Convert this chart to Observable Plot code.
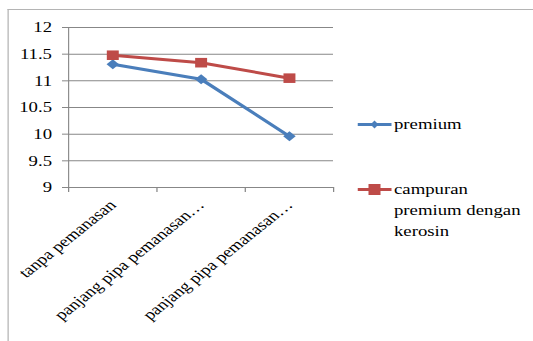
<!DOCTYPE html>
<html><head><meta charset="utf-8">
<script src="https://cdn.jsdelivr.net/npm/d3@7"></script>
<script src="https://cdn.jsdelivr.net/npm/@observablehq/plot@0.6"></script>
<style>
body{margin:0;background:#fff;}
#wrap{position:relative;width:533px;height:341px;overflow:hidden;}
#stage{position:absolute;left:0;top:0;width:426.4px;height:341px;transform:scaleX(1.25);transform-origin:0 0;font-family:'Liberation Serif';}
#frame{position:absolute;left:5.6px;top:9px;width:430px;height:340px;border-top:1.5px solid #b4b4b4;border-left:1.2px solid #b4b4b4;}
#chart{position:absolute;left:0;top:0;}
.leg{position:absolute;font-size:15px;line-height:21px;color:#000;font-family:'Liberation Serif';white-space:nowrap;}
.leg svg{position:absolute;left:0;top:0;}
</style></head>
<body><div id="wrap"><div id="stage"><div id="frame"></div><div id="chart"></div>
<div class="leg" style="left:285.6px;top:114px;"><svg width="28" height="22"><line x1="0" x2="27.2" y1="10.5" y2="10.5" stroke="#4a7ebb" stroke-width="3"/><path d="M13.6,6.5 L16.8,10.5 L13.6,14.5 L10.4,10.5Z" fill="#4a7ebb"/></svg><span style="margin-left:29.6px">premium</span></div>
<div class="leg" style="left:285.6px;top:179px;"><svg width="28" height="22"><line x1="0" x2="27.2" y1="10.5" y2="10.5" stroke="#be4b48" stroke-width="3"/><rect x="8.8" y="5" width="9.6" height="11" fill="#be4b48"/></svg><div style="margin-left:29.6px">campuran<br>premium dengan<br>kerosin</div></div>
</div></div>
<script>
const categories = ["tanpa pemanasan", "panjang pipa pemanasan…", "panjang pipa pemanasan…"];
const premium = [11.31, 11.03, 9.96];
const campuran = [11.48, 11.34, 11.05];
const yTicks = [9, 9.5, 10, 10.5, 11, 11.5, 12];
const seriesNames = ["premium", "campuran premium dengan kerosin"];

const rows = [];
categories.forEach((c, i) => {
  rows.push({i, s: seriesNames[0], v: premium[i]});
  rows.push({i, s: seriesNames[1], v: campuran[i]});
});
const blue = rows.filter(d => d.s === seriesNames[0]);
const red = rows.filter(d => d.s === seriesNames[1]);
const bounds = d3.range(categories.length + 1).map(k => k - 0.5);

const chart = Plot.plot({
  width: 426.4, height: 341,
  marginLeft: 54.4, marginRight: 160, marginTop: 27, marginBottom: 154,
  style: {fontFamily: "'Liberation Serif'", fontSize: "15px", background: "transparent", color: "#000", overflow: "visible"},
  x: {domain: [-0.5, categories.length - 0.5], axis: null},
  y: {domain: [9, 12], axis: null},
  marks: [
    Plot.ruleY(yTicks, {stroke: "#878787", strokeWidth: 1, strokeOpacity: 1}),
    Plot.ruleX([-0.5], {stroke: "#878787", strokeWidth: 0.9, strokeOpacity: 1}),
    Plot.axisY({ticks: yTicks, tickSize: 4.8, tickPadding: 8.5, tickFormat: d => String(d), stroke: "#878787", strokeOpacity: 1, label: null, fontSize: 15}),
    Plot.axisX({ticks: bounds, tickSize: 5, tickFormat: () => "", stroke: "#878787", strokeOpacity: 1, label: null}),
    Plot.axisX({ticks: d3.range(categories.length), tickSize: 0, tickPadding: 15, tickRotate: -45, textAnchor: "end", tickFormat: i => categories[i], label: null, fontSize: 15}),
    Plot.lineY(blue, {x: "i", y: "v", stroke: "#4a7ebb", strokeWidth: 3}),
    Plot.lineY(red, {x: "i", y: "v", stroke: "#be4b48", strokeWidth: 3}),
    Plot.dot(blue, {x: "i", y: "v", symbol: "diamond2", r: 4.5, fill: "#4a7ebb"}),
    Plot.dot(red, {x: "i", y: "v", symbol: "square", r: 5.4, fill: "#be4b48"})
  ]
});
document.getElementById("chart").appendChild(chart);
</script></body></html>
